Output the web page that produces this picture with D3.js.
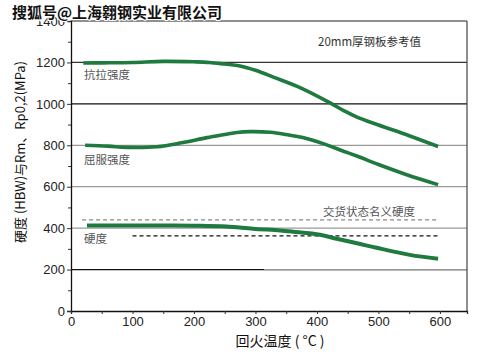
<!DOCTYPE html>
<html><head><meta charset="utf-8">
<script src="https://cdn.jsdelivr.net/npm/d3@7"></script>
<style>body{margin:0;background:#fff}svg{display:block}</style>
</head><body>
<svg id="c" width="480" height="359"></svg>
<script>
const yTicks = [0,200,400,600,800,1000,1200,1400];
const xTicks = [0,100,200,300,400,500,600];
const tensileT = [20,50,100,150,200,225,250,275,300,330,375,420,445,465,500,550,597];
const tensileV = [1197,1198,1200,1205,1203,1200,1192,1183,1162,1128,1075,1007,965,936,898,846,794];
const yieldT = [23,60,91,140,180,221,250,270,291,324,350,380,410,440,465,500,546,597];
const yieldV = [800,796,790,793,812,837,852,862,866,863,852,835,808,775,748,707,658,610];
const hardT = [26,100,150,200,253,296,340,361,405,432,465,497,551,597];
const hardV = [413,413,413,412,408,397,389,383,368,349,327,305,271,252];
const nominalHard = 440, nominalT = [18,597];
const refHard = 363, refT = [100,597];

const svg = d3.select("#c");
const x = d3.scaleLinear().domain([0,644]).range([71,467]);
const y = d3.scaleLinear().domain([0,1400]).range([311,21]);
const cjk = "'Noto Sans CJK SC', sans-serif";
const latin = "'Liberation Sans', Arial, sans-serif";

// grid lines
const gridColor = {200:"#111",400:"#999",600:"#999",800:"#999",1000:"#111",1200:"#333"};
[200,400,600,800,1000,1200].forEach(v=>{
  svg.append("line").attr("x1",x(0)).attr("x2",x(644)).attr("y1",y(v)).attr("y2",y(v))
    .attr("stroke",gridColor[v]).attr("stroke-width",1.2);
});
svg.append("line").attr("x1",264).attr("x2",x(644)).attr("y1",y(200)).attr("y2",y(200))
  .attr("stroke","#999").attr("stroke-width",1.3);

// frame
svg.append("line").attr("x1",x(0)).attr("x2",x(644)).attr("y1",y(1400)).attr("y2",y(1400)).attr("stroke","#222").attr("stroke-width",1.2);
svg.append("line").attr("x1",x(644)).attr("x2",x(644)).attr("y1",y(1400)).attr("y2",y(0)).attr("stroke","#444").attr("stroke-width",1.2);

// axes
const yAxis = svg.append("g").attr("transform",`translate(${x(0)},0)`)
  .call(d3.axisLeft(y).tickValues(yTicks).tickSize(4).tickPadding(2).tickFormat(d3.format("d")));
const yMinor = svg.append("g").attr("transform",`translate(${x(0)},0)`)
  .call(d3.axisLeft(y).tickValues(d3.range(100,1400,200)).tickSize(3).tickFormat(""));
yMinor.select(".domain").remove();
const xAxis = svg.append("g").attr("transform",`translate(0,${y(0)})`)
  .call(d3.axisBottom(x).tickValues(xTicks).tickSize(3).tickPadding(3).tickFormat(d3.format("d")));
const xMinor = svg.append("g").attr("transform",`translate(0,${y(0)})`)
  .call(d3.axisBottom(x).tickValues([50,150,250,350,450,550,644]).tickSize(3).tickFormat(""));
xMinor.select(".domain").remove();
[yAxis,xAxis].forEach(g=>{
  g.attr("font-family",latin).attr("font-size",13);
  g.select(".domain").attr("stroke","#111").attr("stroke-width",1.3);
  g.selectAll("text").attr("fill","#222");
});
svg.selectAll(".tick line").attr("stroke","#333");

// dashed reference lines
svg.append("line").attr("x1",x(nominalT[0])).attr("x2",x(nominalT[1])).attr("y1",y(nominalHard)).attr("y2",y(nominalHard))
  .attr("stroke","#888").attr("stroke-width",1.2).attr("stroke-dasharray","4,3");
svg.append("line").attr("x1",x(refT[0])).attr("x2",x(refT[1])).attr("y1",y(refHard)).attr("y2",y(refHard))
  .attr("stroke","#111").attr("stroke-width",1.2).attr("stroke-dasharray","4,3");

// curves
const line = d3.line().x(d=>x(d[0])).y(d=>y(d[1])).curve(d3.curveCatmullRom.alpha(0.5));
const green = "#1f7a3f";
[[tensileT,tensileV,3.6],[yieldT,yieldV,3.6],[hardT,hardV,4]].forEach(([t,v,w])=>{
  svg.append("path").datum(t.map((d,i)=>[d,v[i]])).attr("d",line)
    .attr("fill","none").attr("stroke",green).attr("stroke-width",w).attr("stroke-linecap","butt");
});

// labels
const lab = (txt,xx,yy,size,fill)=>svg.append("text").attr("x",xx).attr("y",yy)
  .attr("font-family",cjk).attr("font-size",size).attr("fill",fill).text(txt);
lab("抗拉强度",84,79,11.5,"#555");
lab("屈服强度",84,164,11.5,"#555");
lab("硬度",84,243,11.5,"#555");
lab("交货状态名义硬度",323,216,11.5,"#555");
lab("20mm厚钢板参考值",318,46,11.5,"#333");

// axis titles
svg.append("text").attr("x",280).attr("y",346).attr("text-anchor","middle")
  .attr("font-family",cjk).attr("font-size",14).attr("fill","#111").text("回火温度 ( °C )");
svg.append("text").attr("transform","translate(25,152) rotate(-90)").attr("text-anchor","middle")
  .attr("font-family",cjk).attr("font-size",13).attr("fill","#111").text("硬度 (HBW)与Rm、Rp0,2(MPa)");

// watermark
svg.append("text").attr("x",12).attr("y",18).attr("font-family",cjk).attr("font-size",15).attr("font-weight","bold")
  .attr("fill","#111").attr("stroke","#fff").attr("stroke-width",2).attr("paint-order","stroke")
  .text("搜狐号@上海翱钢实业有限公司");
</script>
</body></html>
